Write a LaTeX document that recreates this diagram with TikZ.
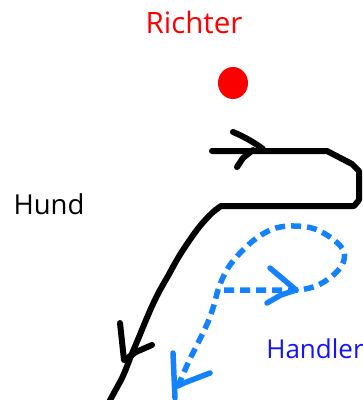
\documentclass[tikz,border=0pt]{standalone}
\usepackage{fontspec}
\setmainfont{Open Sans}
\usetikzlibrary{shapes.geometric}
\definecolor{dashblue}{RGB}{20,130,255}
\definecolor{textblue}{RGB}{20,20,250}
\definecolor{dotred}{RGB}{250,0,0}
\tikzset{
  lbl/.style={anchor=base, inner sep=0pt},
  blk/.style={line width=6pt, line cap=round, line join=round, black},
  bluedash/.style={line width=5.5pt, line join=round, dashblue, dash pattern=on 10pt off 6pt},
  bluetip/.style={line width=5.5pt, line cap=round, line join=round, dashblue},
}
\begin{document}
\begin{tikzpicture}[x=1pt, y=-1pt]
\useasboundingbox (0,0) rectangle (363,400);
\clip (0,0) rectangle (363,400);
% labels
\node[lbl, text=red, font=\fontsize{29.5}{32}\selectfont] (richter) at (194,33) {Richter};
\node[lbl, text=black, font=\fontsize{27.5}{30}\selectfont] (hund) at (49,214) {Hund};
\node[lbl, text=textblue, font=\fontsize{26}{30}\selectfont] (handler) at (315,358) {Handler};
% red dot
\node[ellipse, fill=dotred, minimum width=30pt, minimum height=32pt, inner sep=0pt] (dot) at (233,83) {};
% black track
\coordinate (bstart) at (212,151);
\coordinate (bcorner) at (221,206);
\coordinate (bend) at (108,404);
\draw[blk] (bstart) -- (327,151) -- (352,164) -- (359,171) -- (359,200) -- (354,206) -- (bcorner)
  -- plot[smooth, tension=0.55] coordinates {(221,206) (212,213) (200,226) (189,241) (178,258) (168,276) (160,290) (153,304) (146,320) (139,337) (131,356) (123,376) (115,391) (108,404)};
% black chevrons
\coordinate (btip1) at (263,149);
\draw[blk] (233,132) .. controls (245,137) and (255,143) .. (btip1);
\draw[blk] (237,167) -- (243,158) -- (253,150);
\coordinate (btip2) at (126,359);
\draw[blk] (120,323) -- (124,360);
\draw[blk] (152,345) -- (136,352) -- (btip2);
% blue handler track
\coordinate (hstart) at (224,290);
\coordinate (hmid) at (300,290);
\coordinate (hend) at (178,386);
\draw[bluedash] (hstart) -- (hmid)
  -- plot[smooth, tension=0.6] coordinates {(300,290) (316,286) (331,277) (342,265) (344,252) (334,240) (315,229) (295,226) (276,228) (258,237) (241,252) (228,268) (219,287) (214,305) (208,322) (199,341) (189,361) (178,386)};
% blue chevrons
\coordinate (htip1) at (296,290);
\draw[bluetip] (270,268) -- (htip1);
\draw[bluetip] (267,303) -- (281,295) -- (htip1);
\draw[bluetip] (173,353) -- (175,398);
\draw[bluetip] (210,373) -- (184,383) -- (hend);
\end{tikzpicture}
\end{document}
